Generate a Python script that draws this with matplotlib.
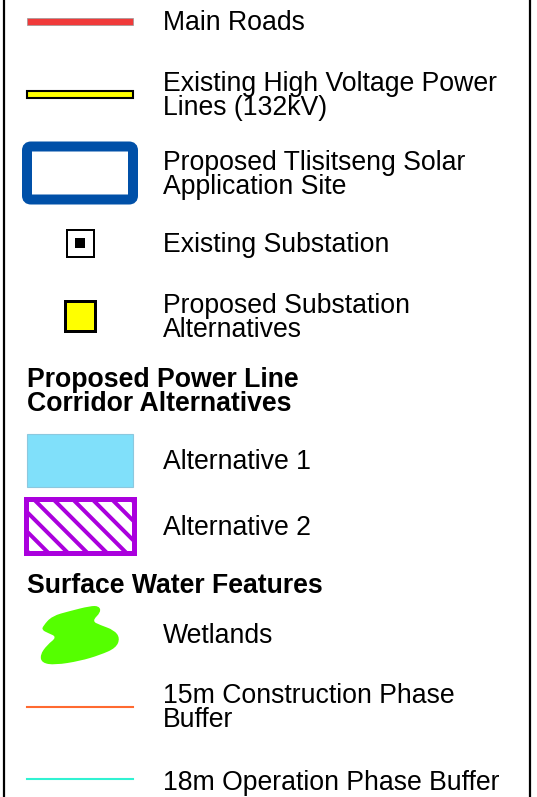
import matplotlib
matplotlib.use('Agg')
import matplotlib.pyplot as plt
from matplotlib.patches import Rectangle, FancyBboxPatch, PathPatch
from matplotlib.path import Path
import numpy as np

plt.rcParams['font.family'] = ['Liberation Sans', 'DejaVu Sans']

# legend entries (label, symbol kind, text centre y in px)
labels = [
    "Main Roads",
    "Existing High Voltage Power\nLines (132kV)",
    "Proposed Tlisitseng Solar\nApplication Site",
    "Existing Substation",
    "Proposed Substation\nAlternatives",
    "Alternative 1",
    "Alternative 2",
    "Wetlands",
    "15m Construction Phase\nBuffer",
    "18m Operation Phase Buffer",
]
kinds = ["road", "hv", "site", "sub", "subalt", "alt1", "alt2", "wet", "buf15", "buf18"]
rows_y = [21, 94, 173, 243, 316, 460, 526, 634, 706, 781]

headers = ["Proposed Power Line\nCorridor Alternatives", "Surface Water Features"]
headers_y = [390, 584]

# wetland outline (px)
wet_x = [43, 52, 70, 90, 99, 101, 92, 100, 114, 120, 116, 100, 80, 55, 42, 40, 47, 57, 48, 42]
wet_y = [626, 616, 611, 606, 606, 612, 621, 625, 630, 638, 648, 655, 661, 665, 663, 655, 645, 637, 633, 630]

W, H = 537, 797
fig = plt.figure(figsize=(W / 100, H / 100), dpi=100)
ax = fig.add_axes([0, 0, 1, 1])
ax.set_xlim(0, W)
ax.set_ylim(H, 0)
ax.axis('off')

# frame lines
ax.plot([4, 4], [0, H], color='black', lw=1.6)
ax.plot([529.5, 529.5], [0, H], color='black', lw=1.6)

x0, x1 = 27, 133
xc = (x0 + x1) / 2
px = 0.72  # points per pixel
fs = 19.2
ls = 0.93
dy = 2  # text offset

for lab, kind, y in zip(labels, kinds, rows_y):
    ax.text(163, y + dy, lab, fontsize=fs, va='center', ha='left', linespacing=ls)
    if kind == "road":
        ax.add_patch(Rectangle((x0, y - 3.5), x1 - x0, 7, facecolor='#f03a3a', edgecolor='#999999', lw=0.5))
    elif kind == "hv":
        ax.add_patch(Rectangle((x0, y - 3.5), x1 - x0, 7, facecolor='#ffff00', edgecolor='black', lw=1.5))
    elif kind == "site":
        ax.add_patch(FancyBboxPatch((x0, y - 26.5), x1 - x0, 53, boxstyle='round,pad=0,rounding_size=4',
                                    facecolor='white', edgecolor='#0050a8', lw=10 * px))
    elif kind == "sub":
        ax.add_patch(Rectangle((xc - 13.5, y - 13.5), 27, 27, facecolor='white', edgecolor='black', lw=2 * px))
        ax.add_patch(Rectangle((xc - 5, y - 5), 10, 10, facecolor='black', edgecolor='none'))
    elif kind == "subalt":
        ax.add_patch(Rectangle((xc - 15, y - 15), 30, 30, facecolor='#ffff00', edgecolor='black', lw=3 * px))
    elif kind == "alt1":
        ax.add_patch(Rectangle((x0, y - 26.5), x1 - x0, 53, facecolor='#80e0fa', edgecolor='#8cc8de', lw=0.8))
    elif kind == "alt2":
        top, bot = y - 27, y + 27
        clip = Rectangle((x0 - 1, top), x1 - x0 + 2, 54, facecolor='white', edgecolor='none')
        ax.add_patch(clip)
        for s in np.arange(x0 - 1 - 60, x1 + 20, 19.5) + 9:
            ln, = ax.plot([s, s + 60], [top, top + 60], color='#aa00dd', lw=4 * px,
                          solid_capstyle='butt')
            ln.set_clip_path(clip)
        ax.add_patch(Rectangle((x0 - 1, top), x1 - x0 + 2, 54, facecolor='none', edgecolor='#aa00dd',
                               lw=5 * px))
    elif kind == "wet":
        pts = np.column_stack([wet_x, wet_y])
        n = len(pts)
        verts, codes = [], []
        start = (pts[0] + pts[1]) / 2
        verts.append(start)
        codes.append(Path.MOVETO)
        for i in range(1, n + 1):
            c = pts[i % n]
            m = (pts[i % n] + pts[(i + 1) % n]) / 2
            verts += [c, m]
            codes += [Path.CURVE3, Path.CURVE3]
        ax.add_patch(PathPatch(Path(verts, codes), facecolor='#55ff00', edgecolor='none'))
    elif kind == "buf15":
        ax.plot([x0, x1], [y + 1, y + 1], color='#ff6a30', lw=1.5)
    elif kind == "buf18":
        ax.plot([x0, x1], [y - 2, y - 2], color='#30f2d2', lw=1.5)

for h, y in zip(headers, headers_y):
    ax.text(27, y + dy, h, fontsize=fs, fontweight='bold', va='center', ha='left', linespacing=ls)

fig.savefig('out.png', dpi=100)
